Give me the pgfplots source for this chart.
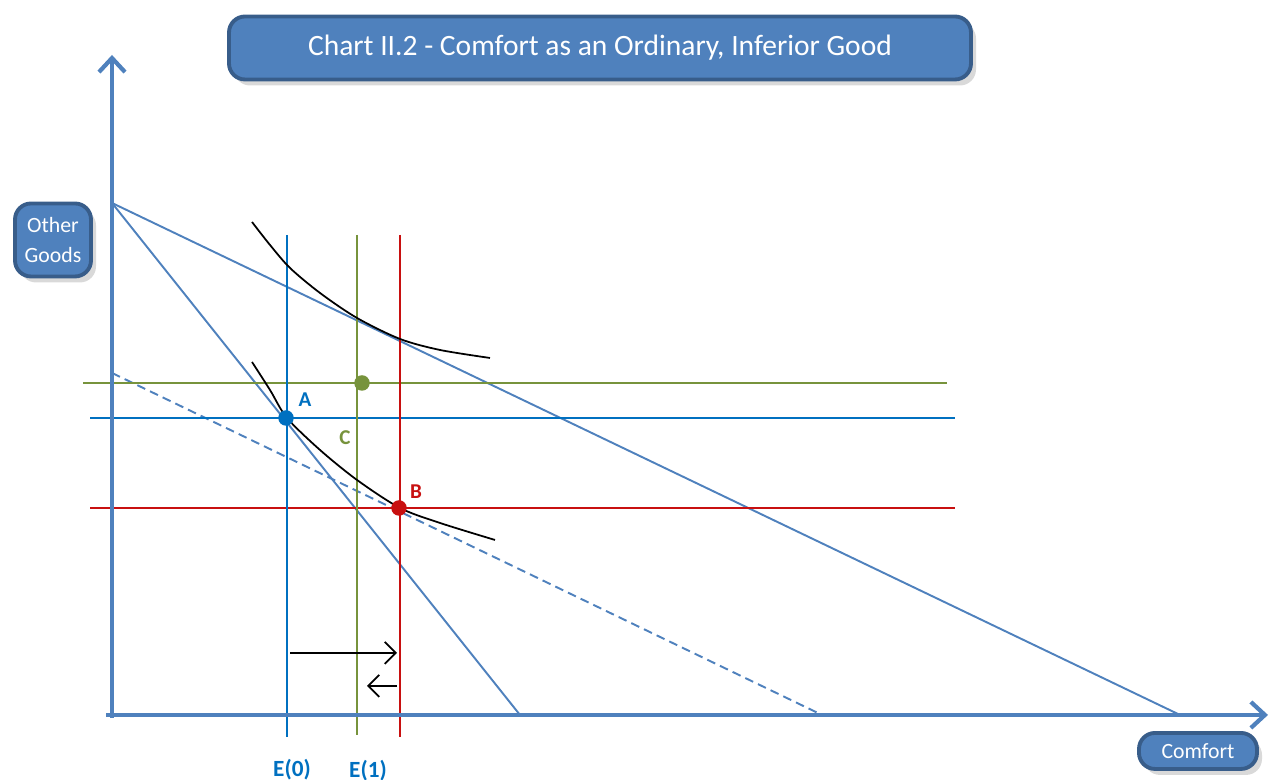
\documentclass[border=0pt]{standalone}
\usepackage{pgfplots}
\pgfplotsset{compat=1.18}
\usepackage{fontspec}
\setmainfont{Carlito}
\usetikzlibrary{arrows.meta,shadows}
\definecolor{axisblue}{RGB}{79,129,189}
\definecolor{boxedge}{RGB}{56,93,138}
\definecolor{eblue}{RGB}{0,112,192}
\definecolor{egreen}{RGB}{119,147,60}
\definecolor{ered}{RGB}{200,16,16}
\tikzset{box/.style={draw=boxedge, fill=axisblue, line width=1.1pt, rounded corners=1.6mm,
              text=white, align=center, inner sep=0pt,
              drop shadow={opacity=0.3, shadow xshift=0.5mm, shadow yshift=-0.6mm}}}

\begin{document}
\begin{tikzpicture}
\begin{axis}[
  scale only axis, width=12.72cm, height=7.8cm,
  xmin=0, xmax=1272, ymin=0, ymax=780,
  axis lines=none, clip=false,
]
% budget lines
\addplot[axisblue, line width=0.55pt] coordinates {(112,577) (520,65)};
\addplot[axisblue, line width=0.55pt] coordinates {(112,577) (1180,65)};
\addplot[axisblue, line width=0.55pt, dash pattern=on 2.5pt off 1.5pt] coordinates {(112,407) (822,65)};
% horizontal reference lines
\addplot[egreen, line width=0.6pt] coordinates {(83,397) (947,397)};
\addplot[eblue, line width=0.6pt] coordinates {(90,362) (955,362)};
\addplot[ered, line width=0.6pt] coordinates {(90,272) (955,272)};
% vertical reference lines
\addplot[eblue, line width=0.6pt] coordinates {(287,545) (287,43)};
\addplot[egreen, line width=0.6pt] coordinates {(357,545) (357,45)};
\addplot[ered, line width=0.6pt] coordinates {(400,545) (400,43)};
% indifference curves
\addplot[black, line width=0.5pt, smooth] coordinates
  {(252,558) (270,535) (290,512) (320,487) (357,462) (400,441) (440,430) (490,422)};
\addplot[black, line width=0.5pt, smooth] coordinates
  {(252,418) (270,390) (287,362) (320,330) (357,300) (400,272) (440,257) (495,240)};
% axes
\addplot[axisblue, line width=1.2pt, -{Straight Barb[length=1.4mm,width=2.6mm]}] coordinates {(112,62) (112,725)};
\addplot[axisblue, line width=1.2pt, -{Straight Barb[length=1.4mm,width=2.6mm]}] coordinates {(106,65) (1268,65)};
% shift arrows
\addplot[black, line width=0.5pt, -{Straight Barb[length=1.1mm,width=2.2mm]}] coordinates {(290,127) (397,127)};
\addplot[black, line width=0.5pt, -{Straight Barb[length=1.1mm,width=2.2mm]}] coordinates {(397,94) (367,94)};
% labels
\node[fill=white, inner sep=1pt, text=eblue, font=\fontsize{6}{7}\selectfont\bfseries] at (axis cs:305,380) {A};
\node[fill=white, inner sep=1pt, text=egreen, font=\fontsize{6}{7}\selectfont\bfseries] at (axis cs:345,342) {C};
\node[text=ered, font=\fontsize{6}{7}\selectfont\bfseries] at (axis cs:416,288) {B};
% equilibrium points
\addplot[only marks, mark=*, mark size=2pt, eblue] coordinates {(286,362)};
\addplot[only marks, mark=*, mark size=2pt, egreen] coordinates {(362,397)};
\addplot[only marks, mark=*, mark size=2pt, ered] coordinates {(399,272)};
% E labels
\node[text=eblue, font=\fontsize{6.6}{8}\selectfont\bfseries] at (axis cs:292,10) {E(0)};
\node[text=eblue, font=\fontsize{6.6}{8}\selectfont\bfseries] at (axis cs:368,9) {E(1)};
% boxes
\node[box, minimum width=74.2mm, minimum height=6.3mm, font=\fontsize{8.4}{10}\selectfont] at (axis cs:600,732) {Chart II.2 - Comfort as an Ordinary, Inferior Good};
\node[box, minimum width=7.6mm, minimum height=7.3mm, font=\fontsize{6.2}{8.5}\selectfont] at (axis cs:53,540) {Other\\Goods};
\node[box, minimum width=11.8mm, minimum height=3.6mm, font=\fontsize{6.2}{7.5}\selectfont] at (axis cs:1198,29) {Comfort};
\end{axis}
\pgfresetboundingbox
\path[use as bounding box] (current axis.south west) rectangle (current axis.north east);
\end{tikzpicture}
\end{document}
